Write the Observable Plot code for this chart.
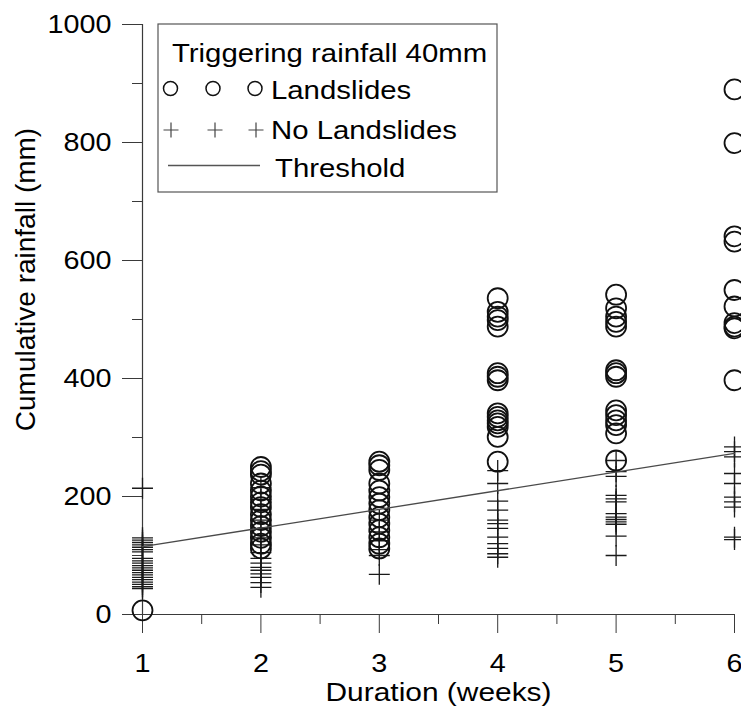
<!DOCTYPE html>
<html>
<head>
<meta charset="utf-8">
<script src="https://cdn.jsdelivr.net/npm/d3@7"></script>
<script src="https://cdn.jsdelivr.net/npm/@observablehq/plot@0.6"></script>
<style>
  html, body { margin: 0; padding: 0; background: #fff; overflow: hidden; }
  svg { display: block; }
</style>
</head>
<body>
<div id="chart"></div>
<script>
// Cumulative rainfall (mm) per antecedent duration (weeks)
const weeks = [1, 2, 3, 4, 5, 6];

// Events that produced landslides
const landslides1 = [7];
const landslides2 = [250, 243, 237, 222, 210, 200, 190, 182, 170, 160, 150, 140, 130, 120, 112];
const landslides3 = [259, 253, 245, 222, 210, 199, 188, 177, 165, 154, 143, 131, 120, 112];
const landslides4 = [536, 513, 505, 499, 488, 409, 403, 397, 341, 335, 329, 324, 318, 301, 259];
const landslides5 = [542, 519, 505, 496, 488, 414, 409, 403, 346, 338, 329, 321, 307, 261];
const landslides6 = [890, 799, 641, 632, 550, 522, 494, 488, 485, 397];

// Events without landslides
const noLandslides1 = [214, 130, 126, 122, 118, 114, 110, 106, 95, 91, 87, 83, 79, 75, 71, 67, 63, 59, 55, 51, 47, 44];
const noLandslides2 = [215, 195, 178, 160, 145, 130, 118, 105, 95, 87, 80, 75, 69, 63, 54, 46];
const noLandslides3 = [160, 140, 125, 110, 100, 68];
const noLandslides4 = [244, 222, 192, 177, 160, 154, 146, 131, 120, 112, 103, 97];
const noLandslides5 = [261, 242, 234, 202, 196, 191, 171, 165, 161, 157, 153, 133, 100];
const noLandslides6 = [284, 276, 267, 239, 222, 199, 191, 182, 131, 127];

// Threshold line (end points)
const thresholdWeeks = [1, 6];
const thresholdMM = [115, 273];

// Axis ticks
const xMajorTicks = [1, 2, 3, 4, 5, 6];
const xMinorTicks = [1.5, 2.5, 3.5, 4.5, 5.5];
const yMajorTicks = [0, 200, 400, 600, 800, 1000];
const yMinorTicks = [100, 300, 500, 700, 900];

const legendTitle = "Triggering rainfall 40mm";
const legendLabels = ["Landslides", "No Landslides", "Threshold"];

const rows = (lists) => lists.flatMap((values, i) => values.map(mm => ({week: weeks[i], mm})));
const landslideRows = rows([landslides1, landslides2, landslides3, landslides4, landslides5, landslides6]);
const noLandslideRows = rows([noLandslides1, noLandslides2, noLandslides3, noLandslides4, noLandslides5, noLandslides6]);
const thresholdRows = thresholdWeeks.map((w, i) => ({week: w, mm: thresholdMM[i]}));

const font = "'Liberation Sans', Arial, sans-serif";
const axisColor = "#3a3a3a";

const chart = Plot.plot({
  width: 741,
  height: 711,
  marginLeft: 142,
  marginRight: 7,
  marginTop: 24,
  marginBottom: 97,
  style: {fontFamily: font, fontSize: "25px", color: "#000", background: "#fff"},
  x: {domain: [1, 6]},
  y: {domain: [0, 1000]},
  marks: [
    Plot.axisX({ticks: xMajorTicks, tickSize: 19, tickPadding: 21, tickFormat: d => String(d), fontSize: 25, stroke: axisColor, label: null}),
    Plot.axisX({ticks: xMinorTicks, tickSize: 10, tickFormat: () => "", stroke: axisColor, label: null}),
    Plot.axisY({ticks: yMajorTicks, tickSize: 20, tickPadding: 11, tickFormat: d => String(d), fontSize: 25, stroke: axisColor, label: null}),
    Plot.axisY({ticks: yMinorTicks, tickSize: 10, tickFormat: () => "", stroke: axisColor, label: null}),
    Plot.ruleX([1], {stroke: axisColor, strokeWidth: 1.2}),
    Plot.ruleY([0], {stroke: axisColor, strokeWidth: 1.2}),
    Plot.dot(noLandslideRows, {x: "week", y: "mm", symbol: "plus", r: 6.8, stroke: "#1a1a1a", strokeWidth: 1.3}),
    Plot.dot(landslideRows, {x: "week", y: "mm", r: 10, stroke: "#111", strokeWidth: 1.8}),
    Plot.line(thresholdRows, {x: "week", y: "mm", stroke: "#4a4a4a", strokeWidth: 1.3}),
    Plot.text(["Duration (weeks)"], {text: d => d, frameAnchor: "bottom", lineAnchor: "bottom", dy: 86, fontSize: 26, fill: "#000"}),
    Plot.text(["Cumulative rainfall (mm)"], {text: d => d, frameAnchor: "left", textAnchor: "middle", rotate: -90, dx: -116, dy: -40, fontSize: 28, fill: "#000"})
  ]
});

document.getElementById("chart").appendChild(chart);

// Legend box drawn over the plot area
const svg = d3.select(chart);
const lg = svg.append("g").attr("font-family", font).attr("font-size", 25.5)
  .attr("fill", "#000").attr("text-anchor", "start");
lg.append("rect").attr("x", 158).attr("y", 24).attr("width", 339).attr("height", 168)
  .attr("fill", "#fff").attr("stroke", "#555").attr("stroke-width", 1.2);
lg.append("text").attr("x", 172).attr("y", 61.5).text(legendTitle);
[170.5, 213, 255].forEach(cx => lg.append("circle").attr("cx", cx).attr("cy", 88.5).attr("r", 7)
  .attr("fill", "none").attr("stroke", "#111").attr("stroke-width", 1.5));
lg.append("text").attr("x", 271).attr("y", 98.5).text(legendLabels[0]);
[171, 215, 256].forEach(cx => lg.append("path")
  .attr("d", `M${cx - 7.5},130H${cx + 7.5}M${cx},122.5V137.5`)
  .attr("stroke", "#444").attr("stroke-width", 1.2));
lg.append("text").attr("x", 271).attr("y", 138.5).text(legendLabels[1]);
lg.append("line").attr("x1", 168).attr("x2", 260).attr("y1", 165.5).attr("y2", 165.5)
  .attr("stroke", "#555").attr("stroke-width", 1.3);
lg.append("text").attr("x", 275).attr("y", 177).text(legendLabels[2]);

// Slightly wide lettering for the horizontal texts
svg.selectAll("text").each(function() {
  const t = this.getAttribute("transform") || "";
  if (t.includes("rotate")) return;
  if (!this.textContent) return;
  const len = this.getComputedTextLength();
  if (len > 0) {
    this.setAttribute("textLength", (len * 1.15).toFixed(1));
    this.setAttribute("lengthAdjust", "spacingAndGlyphs");
  }
});
</script>
</body>
</html>
